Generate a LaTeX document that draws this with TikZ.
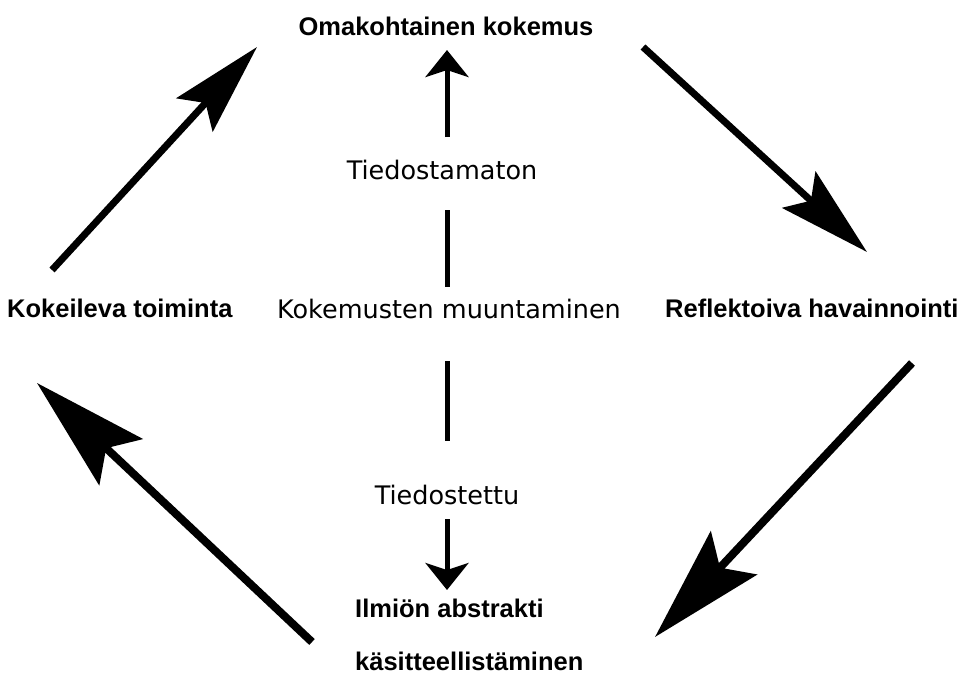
\documentclass[tikz,border=0pt]{standalone}
\usepackage{fontspec}
\setmainfont{Liberation Sans}
\newfontfamily\plainfont{DejaVu Sans}
\usetikzlibrary{arrows.meta, positioning}

\begin{document}
\begin{tikzpicture}[
    x=1pt, y=-1pt,
    phase/.style={inner sep=0pt, font=\fontsize{25.5}{30}\selectfont\bfseries},
    note/.style={inner sep=0pt, font=\plainfont\fontsize{25.5}{30}\selectfont},
    cyclearrow/.style={line width=7pt, -{Stealth[length=92pt, width=49pt, inset=16pt]}},
    cyclearrowbig/.style={line width=8pt, -{Stealth[length=115pt, width=63pt, inset=20pt]}},
    shiftarrow/.style={line width=5pt, -{Stealth[length=27pt, width=43pt, inset=7pt]}},
    shiftline/.style={line width=5pt}
]
\useasboundingbox (0,0) rectangle (960,680);

% phases of the cycle
\node[phase, anchor=base] (exp) at (446,35) {Omakohtainen kokemus};
\node[phase, anchor=base west] (act) at (7,317) {Kokeileva toiminta};
\node[phase, anchor=base west] (refl) at (665,317) {Reflektoiva havainnointi};
\node[phase, anchor=base west] (abs1) at (355,617) {Ilmiön abstrakti};
\node[phase, anchor=base west] (abs2) at (355,670) {käsitteellistäminen};

% centre axis
\node[note, anchor=base] (trans) at (449,318) {Kokemusten muuntaminen};
\node[note, anchor=base] (uncon) at (442,179) {Tiedostamaton};
\node[note, anchor=base] (con) at (447,504) {Tiedostettu};

% arrow ends
\coordinate (actout) at (52,270);
\coordinate (expin) at (257,47);
\coordinate (expout) at (643,47);
\coordinate (reflin) at (867,252);
\coordinate (reflout) at (912,363);
\coordinate (absin) at (655,637);
\coordinate (absout) at (312,642);
\coordinate (actin) at (37,383);

\draw[cyclearrow] (actout) -- (expin);
\draw[cyclearrow] (expout) -- (reflin);
\draw[cyclearrowbig] (reflout) -- (absin);
\draw[cyclearrowbig] (absout) -- (actin);

\coordinate (upfrom) at (447,137);
\coordinate (upto) at (447,50);
\coordinate (uncontop) at (447,210);
\coordinate (unconbot) at (447,287);
\coordinate (contop) at (447,361);
\coordinate (conbot) at (447,441);
\coordinate (downfrom) at (447,519);
\coordinate (downto) at (447,590);
\draw[shiftarrow] (upfrom) -- (upto);
\draw[shiftline] (uncontop) -- (unconbot);
\draw[shiftline] (contop) -- (conbot);
\draw[shiftarrow] (downfrom) -- (downto);

\end{tikzpicture}
\end{document}
